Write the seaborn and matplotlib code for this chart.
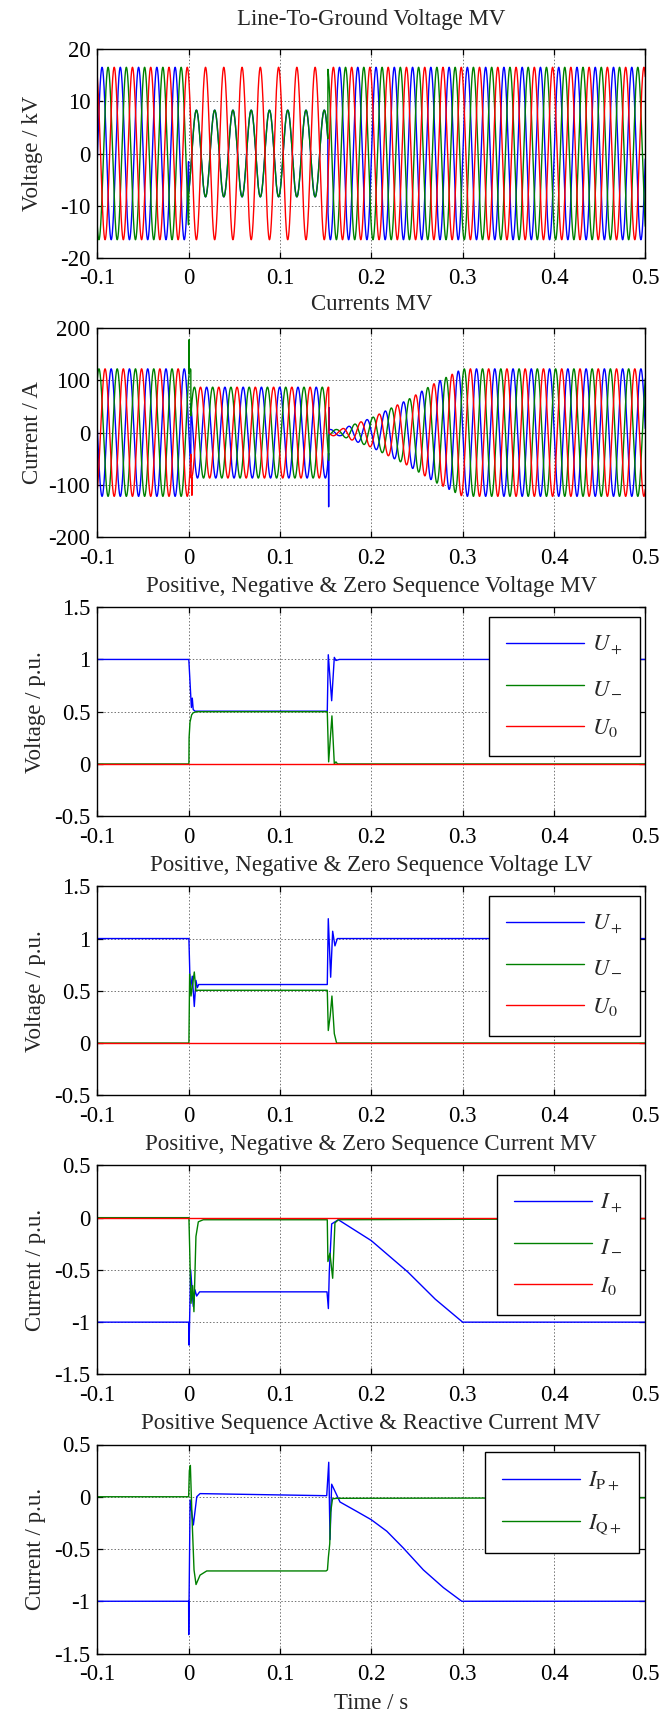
import matplotlib
matplotlib.use("Agg")
import matplotlib.pyplot as plt
import matplotlib.ticker as mticker
import seaborn as sns
import numpy as np

sns.set_theme(style="ticks")
plt.rcParams["font.family"] = ["Liberation Serif", "DejaVu Serif"]
plt.rcParams["mathtext.fontset"] = "stix"
plt.rcParams["axes.unicode_minus"] = False

BLUE, GREEN, RED = "#0000ff", "#008000", "#ff0000"
FS = 16.5
F_NET = 50.0  # grid frequency, Hz

# ---------------- line-to-ground voltage MV (kV) ----------------
# segments: pre-fault / fault / after clearing
v_seg_start = [-0.1, 0.0, 0.1525]
va_amp = [16.5, 8.3, 16.5]
va_peak = [0.0052, 0.0085, 0.0052]
vb_amp = [16.5, 8.3, 16.5]
vb_peak = [0.0118, 0.0085, 0.0118]
vc_amp = [16.5, 16.5, 16.5]
vc_peak = [0.0185, 0.0185, 0.0185]

# ---------------- phase currents MV (A) ----------------
i_seg_start = [-0.1, 0.0025, 0.1535]
ia_peak = [0.0152, 0.0197, 0.0152]
ib_peak = [0.0018, 0.0063, 0.0018]
ic_peak = [0.0085, 0.0130, 0.0085]
i_env_t = [-0.1, 0.0025, 0.0025, 0.1535, 0.1535, 0.166, 0.200, 0.240, 0.270, 0.300, 0.5]
i_env_a = [122, 122, 87, 87, 6, 6, 28, 63, 95, 122, 122]
ia_spike_t, ia_spike_v = [0.1533, 0.1537], [-142, 48]
ib_spike_t, ib_spike_v = [0.0006], [178]
ic_spike_t, ic_spike_v = [0.0022, 0.0036], [-56, -120]

# ---------------- sequence voltages MV (p.u.) ----------------
up_mv_t = [-0.1, 0.0002, 0.0030, 0.0040, 0.0050, 0.0070, 0.1518, 0.1529, 0.1566, 0.1595, 0.1613, 0.165, 0.5]
up_mv_v = [1.0, 1.0, 0.54, 0.63, 0.52, 0.505, 0.505, 1.045, 0.605, 1.02, 0.99, 1.0, 1.0]
un_mv_t = [-0.1, 0.0003, 0.0005, 0.0015, 0.0033, 0.005, 0.0088, 0.1518, 0.1533, 0.1569, 0.1595, 0.1613, 0.163, 0.5]
un_mv_v = [0, 0, 0.25, 0.40, 0.47, 0.49, 0.50, 0.50, 0.02, 0.46, 0.0, 0.02, 0, 0]
u0_mv_t = [-0.1, 0.5]
u0_mv_v = [0, 0]

# ---------------- sequence voltages LV (p.u.) ----------------
up_lv_t = [-0.1, 0.0003, 0.0018, 0.0040, 0.0062, 0.0080, 0.0095, 0.011, 0.1518, 0.1529, 0.1555, 0.1577, 0.1602, 0.1628, 0.5]
up_lv_v = [1.0, 1.0, 0.50, 0.64, 0.35, 0.60, 0.53, 0.56, 0.56, 1.19, 0.63, 1.07, 0.93, 1.0, 1.0]
un_lv_t = [-0.1, 0.0003, 0.0011, 0.0026, 0.0062, 0.0080, 0.0095, 0.1518, 0.1529, 0.1550, 0.1569, 0.1595, 0.162, 0.5]
un_lv_v = [0, 0, 0.66, 0.45, 0.68, 0.50, 0.505, 0.505, 0.12, 0.26, 0.45, 0.09, 0, 0]
u0_lv_t = [-0.1, 0.5]
u0_lv_v = [0, 0]

# ---------------- sequence currents MV (p.u.) ----------------
ip_t = [-0.1, 0.0, 0.0005, 0.0022, 0.0051, 0.0069, 0.0088, 0.012, 0.1515, 0.1530, 0.1540,
        0.1566, 0.1639, 0.200, 0.240, 0.270, 0.300, 0.5]
ip_v = [-1.0, -1.0, -1.22, -0.50, -0.85, -0.69, -0.75, -0.71, -0.71, -0.87, -0.52,
        -0.06, -0.02, -0.22, -0.52, -0.78, -1.0, -1.0]
in_t = [-0.1, 0.0003, 0.0011, 0.0026, 0.0044, 0.0058, 0.0080, 0.0106, 0.016, 0.1518, 0.1525,
        0.1547, 0.1577, 0.1602, 0.1639, 0.5]
in_v = [0, 0, -0.28, -0.82, -0.65, -0.90, -0.18, -0.04, -0.02, -0.02, -0.42,
        -0.34, -0.58, -0.05, -0.02, -0.01]
i0_t = [-0.1, 0.5]
i0_v = [0, 0]

# ---------------- active / reactive positive sequence current MV (p.u.) ----------------
ipp_t = [-0.1, 0.0, 0.0001, 0.0016, 0.0052, 0.0089, 0.0125, 0.1512, 0.1534, 0.1548, 0.1566,
         0.1657, 0.184, 0.2, 0.217, 0.235, 0.257, 0.279, 0.299, 0.5]
ipp_v = [-1.0, -1.0, -1.32, -0.03, -0.27, 0.0, 0.03, 0.01, 0.33, -0.41, 0.12,
         -0.05, -0.14, -0.22, -0.33, -0.49, -0.70, -0.87, -1.0, -1.0]
iqp_t = [-0.1, 0.0, 0.0008, 0.0019, 0.0037, 0.0059, 0.0081, 0.0125, 0.0198, 0.1505, 0.1520,
         0.1530, 0.1545, 0.1555, 0.1575, 0.162, 0.5]
iqp_v = [0, 0, 0.25, 0.30, -0.20, -0.70, -0.84, -0.75, -0.71, -0.71, -0.70,
         -0.58, -0.45, -0.15, -0.02, -0.015, -0.01]

t = np.arange(-0.1, 0.50001, 0.0001)


def wave(seg_start, peaks, amp=None, env_t=None, env_a=None):
    idx = np.searchsorted(seg_start, t, side="right") - 1
    p = np.asarray(peaks)[idx]
    if amp is not None:
        a = np.asarray(amp)[idx]
    else:
        a = np.interp(t, env_t, env_a)
    return a * np.cos(2 * np.pi * F_NET * (t - p))


def with_spikes(y, st, sv):
    tt = np.concatenate([t, st])
    yy = np.concatenate([y, sv])
    o = np.argsort(tt, kind="stable")
    return tt[o], yy[o]


def style_axes(ax, ylim, yticks, ylabel, title, ylabelpad=6, titlepad=11):
    ax.set_xlim(-0.1, 0.5)
    ax.set_ylim(*ylim)
    ax.set_xticks([-0.1, 0, 0.1, 0.2, 0.3, 0.4, 0.5])
    ax.set_yticks(yticks)
    fmt = mticker.FuncFormatter(lambda v, p: "%g" % round(v, 6))
    ax.xaxis.set_major_formatter(fmt)
    ax.yaxis.set_major_formatter(fmt)
    ax.grid(True, color="0.45", linestyle=(0, (1.5, 2)), linewidth=0.7)
    ax.tick_params(direction="in", length=4, width=0.9, top=True, right=True,
                   labelsize=FS, colors="black")
    ax.tick_params(axis="x", pad=7.5)
    ax.tick_params(axis="y", pad=5)
    for s in ax.spines.values():
        s.set_color("black")
        s.set_linewidth(1.0)
    ax.set_ylabel(ylabel, fontsize=FS, labelpad=ylabelpad)
    ax.set_xlabel("")
    ax.set_title(title, fontsize=FS, pad=titlepad)


def seq_legend(ax, anchor):
    leg = ax.legend(loc="upper right", bbox_to_anchor=anchor, fontsize=FS,
                    handlelength=3.4, handletextpad=0.35, labelspacing=0.85,
                    borderpad=0.75, borderaxespad=0, fancybox=False, framealpha=1)
    leg.get_frame().set_edgecolor("black")
    leg.get_frame().set_linewidth(1.0)
    return leg


fig = plt.figure(figsize=(6.63, 17.18), dpi=100)
H = 1718.0
tops = [49, 328.1, 607.2, 886.3, 1165.4, 1444.5]
axes = [fig.add_axes([97.3 / 663, 1 - (tp + 209) / H, 548 / 663, 209 / H]) for tp in tops]
kw = dict(estimator=None, sort=False, linewidth=1.0)

# 1) voltages
ax = axes[0]
sns.lineplot(x=t, y=wave(v_seg_start, va_peak, va_amp), color=BLUE, ax=ax, **kw)
sns.lineplot(x=t, y=wave(v_seg_start, vb_peak, vb_amp), color=GREEN, ax=ax, **kw)
sns.lineplot(x=t, y=wave(v_seg_start, vc_peak, vc_amp), color=RED, ax=ax, **kw)
style_axes(ax, (-20, 20), [-20, -10, 0, 10, 20], "Voltage / kV", "Line-To-Ground Voltage MV",
           ylabelpad=12, titlepad=17)

# 2) currents
ax = axes[1]
for pk, st, sv, c in [(ia_peak, ia_spike_t, ia_spike_v, BLUE),
                      (ib_peak, ib_spike_t, ib_spike_v, GREEN),
                      (ic_peak, ic_spike_t, ic_spike_v, RED)]:
    tt, yy = with_spikes(wave(i_seg_start, pk, env_t=i_env_t, env_a=i_env_a), st, sv)
    sns.lineplot(x=tt, y=yy, color=c, ax=ax, **kw)
style_axes(ax, (-200, 200), [-200, -100, 0, 100, 200], "Current / A", "Currents MV",
           ylabelpad=4, titlepad=13)

# 3) sequence voltages MV
ax = axes[2]
sns.lineplot(x=up_mv_t, y=up_mv_v, color=BLUE, ax=ax, label=r"$U_+$", **kw)
sns.lineplot(x=un_mv_t, y=un_mv_v, color=GREEN, ax=ax, label=r"$U_-$", **kw)
sns.lineplot(x=u0_mv_t, y=u0_mv_v, color=RED, ax=ax, label=r"$U_0$", **kw)
style_axes(ax, (-0.5, 1.5), [-0.5, 0, 0.5, 1, 1.5], "Voltage / p.u.",
           "Positive, Negative & Zero Sequence Voltage MV")
seq_legend(ax, (0.99, 0.955))

# 4) sequence voltages LV
ax = axes[3]
sns.lineplot(x=up_lv_t, y=up_lv_v, color=BLUE, ax=ax, label=r"$U_+$", **kw)
sns.lineplot(x=un_lv_t, y=un_lv_v, color=GREEN, ax=ax, label=r"$U_-$", **kw)
sns.lineplot(x=u0_lv_t, y=u0_lv_v, color=RED, ax=ax, label=r"$U_0$", **kw)
style_axes(ax, (-0.5, 1.5), [-0.5, 0, 0.5, 1, 1.5], "Voltage / p.u.",
           "Positive, Negative & Zero Sequence Voltage LV")
seq_legend(ax, (0.99, 0.955))

# 5) sequence currents MV
ax = axes[4]
sns.lineplot(x=ip_t, y=ip_v, color=BLUE, ax=ax, label=r"$I_+$", **kw)
sns.lineplot(x=in_t, y=in_v, color=GREEN, ax=ax, label=r"$I_-$", **kw)
sns.lineplot(x=i0_t, y=i0_v, color=RED, ax=ax, label=r"$I_0$", **kw)
style_axes(ax, (-1.5, 0.5), [-1.5, -1, -0.5, 0, 0.5], "Current / p.u.",
           "Positive, Negative & Zero Sequence Current MV")
seq_legend(ax, (0.99, 0.955))

# 6) active / reactive current
ax = axes[5]
sns.lineplot(x=ipp_t, y=ipp_v, color=BLUE, ax=ax, label=r"$I_{\mathrm{P+}}$", **kw)
sns.lineplot(x=iqp_t, y=iqp_v, color=GREEN, ax=ax, label=r"$I_{\mathrm{Q+}}$", **kw)
style_axes(ax, (-1.5, 0.5), [-1.5, -1, -0.5, 0, 0.5], "Current / p.u.",
           "Positive Sequence Active & Reactive Current MV")
seq_legend(ax, (0.988, 0.963))
ax.set_xlabel("Time / s", fontsize=FS, labelpad=6)

fig.savefig("out.png", dpi=100)
plt.close(fig)
